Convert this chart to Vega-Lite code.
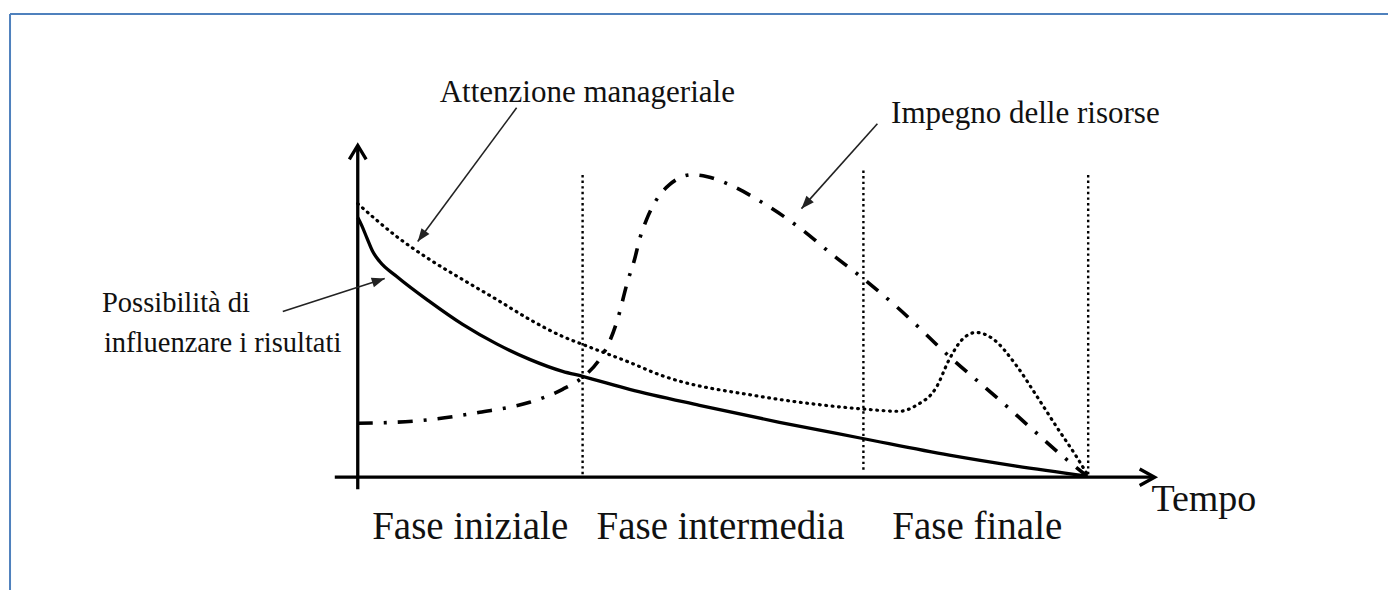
{
  "$schema": "https://vega.github.io/schema/vega-lite/v6.json",
  "width": 1389,
  "height": 591,
  "autosize": {"type": "fit", "contains": "padding"},
  "padding": 0,
  "background": "white",
  "view": {"stroke": null},
  "datasets": {
    "curves": [
      {"curva": "Possibilità", "t": 0, "v": 86.67},
      {"curva": "Possibilità", "t": 0.55, "v": 84},
      {"curva": "Possibilità", "t": 1.23, "v": 80},
      {"curva": "Possibilità", "t": 2.05, "v": 75.33},
      {"curva": "Possibilità", "t": 3.0, "v": 72},
      {"curva": "Possibilità", "t": 5.33, "v": 67},
      {"curva": "Possibilità", "t": 9.84, "v": 58.6},
      {"curva": "Possibilità", "t": 14.34, "v": 51.0},
      {"curva": "Possibilità", "t": 18.99, "v": 44.5},
      {"curva": "Possibilità", "t": 23.5, "v": 39.33},
      {"curva": "Possibilità", "t": 28.0, "v": 35.33},
      {"curva": "Possibilità", "t": 30.74, "v": 33.67},
      {"curva": "Possibilità", "t": 37.16, "v": 29.33},
      {"curva": "Possibilità", "t": 46.72, "v": 24},
      {"curva": "Possibilità", "t": 57.65, "v": 18.33},
      {"curva": "Possibilità", "t": 68.85, "v": 13},
      {"curva": "Possibilità", "t": 80.87, "v": 7.33},
      {"curva": "Possibilità", "t": 90.03, "v": 3.67},
      {"curva": "Possibilità", "t": 99.73, "v": 0.33},
      {"curva": "Attenzione", "t": 0, "v": 91.33},
      {"curva": "Attenzione", "t": 5.33, "v": 80.33},
      {"curva": "Attenzione", "t": 9.84, "v": 72.67},
      {"curva": "Attenzione", "t": 14.34, "v": 66},
      {"curva": "Attenzione", "t": 18.99, "v": 59.33},
      {"curva": "Attenzione", "t": 23.5, "v": 52.67},
      {"curva": "Attenzione", "t": 28.0, "v": 47},
      {"curva": "Attenzione", "t": 30.74, "v": 44.33},
      {"curva": "Attenzione", "t": 37.16, "v": 38.33},
      {"curva": "Attenzione", "t": 41.26, "v": 34.2},
      {"curva": "Attenzione", "t": 54.92, "v": 27},
      {"curva": "Attenzione", "t": 63.11, "v": 24.2},
      {"curva": "Attenzione", "t": 68.85, "v": 22.8},
      {"curva": "Attenzione", "t": 74.04, "v": 22},
      {"curva": "Attenzione", "t": 76.37, "v": 24},
      {"curva": "Attenzione", "t": 79.1, "v": 30},
      {"curva": "Attenzione", "t": 80.87, "v": 39.33},
      {"curva": "Attenzione", "t": 82.65, "v": 46},
      {"curva": "Attenzione", "t": 84.56, "v": 48.33},
      {"curva": "Attenzione", "t": 86.75, "v": 46.33},
      {"curva": "Attenzione", "t": 90.03, "v": 37.33},
      {"curva": "Attenzione", "t": 92.76, "v": 27.33},
      {"curva": "Attenzione", "t": 95.49, "v": 17},
      {"curva": "Attenzione", "t": 98.22, "v": 7},
      {"curva": "Attenzione", "t": 99.73, "v": 1},
      {"curva": "Impegno", "t": 0, "v": 18},
      {"curva": "Impegno", "t": 7.51, "v": 18.67},
      {"curva": "Impegno", "t": 16.67, "v": 21.67},
      {"curva": "Impegno", "t": 23.5, "v": 25},
      {"curva": "Impegno", "t": 28.0, "v": 29.33},
      {"curva": "Impegno", "t": 30.74, "v": 33.33},
      {"curva": "Impegno", "t": 33.06, "v": 39.33},
      {"curva": "Impegno", "t": 34.43, "v": 45.33},
      {"curva": "Impegno", "t": 35.52, "v": 52.67},
      {"curva": "Impegno", "t": 36.89, "v": 65.33},
      {"curva": "Impegno", "t": 37.84, "v": 72.67},
      {"curva": "Impegno", "t": 38.52, "v": 79.33},
      {"curva": "Impegno", "t": 39.48, "v": 86},
      {"curva": "Impegno", "t": 40.85, "v": 92.67},
      {"curva": "Impegno", "t": 42.62, "v": 97.67},
      {"curva": "Impegno", "t": 45.77, "v": 101},
      {"curva": "Impegno", "t": 47.81, "v": 100.33},
      {"curva": "Impegno", "t": 50.82, "v": 97.67},
      {"curva": "Impegno", "t": 55.33, "v": 91.67},
      {"curva": "Impegno", "t": 60.38, "v": 83.33},
      {"curva": "Impegno", "t": 64.89, "v": 74.33},
      {"curva": "Impegno", "t": 69.26, "v": 66},
      {"curva": "Impegno", "t": 73.63, "v": 57},
      {"curva": "Impegno", "t": 80.87, "v": 40.33},
      {"curva": "Impegno", "t": 88.11, "v": 25},
      {"curva": "Impegno", "t": 92.21, "v": 16},
      {"curva": "Impegno", "t": 96.86, "v": 6},
      {"curva": "Impegno", "t": 99.73, "v": 0.33}
    ],
    "phases": [
      {"t": 30.74, "v": 1, "v2": 101.7},
      {"t": 69.13, "v": 2.5, "v2": 102.7},
      {"t": 99.86, "v": 1, "v2": 102}
    ],
    "axes": [
      {"asse": "y", "t": 0, "v": -4, "t2": 0, "v2": 110.67},
      {"asse": "x", "t": -3.14, "v": 0, "t2": 108.74, "v2": 0}
    ],
    "tips": [
      {"asse": "y", "t": 0, "v": 110.8},
      {"asse": "x", "t": 108.95, "v": 0}
    ],
    "frame": [
      {"t": -47.54, "v": -37.67, "t2": -47.54, "v2": 154.67},
      {"t": -47.54, "v": 154.67, "t2": 140.85, "v2": 154.67}
    ],
    "callouts": [
      {"freccia": "Attenzione", "t": 21.72, "v": 123.33, "t2": 8.2, "v2": 78.67},
      {"freccia": "Impegno", "t": 71.04, "v": 118, "t2": 60.66, "v2": 89.67},
      {"freccia": "Possibilità", "t": -10.25, "v": 55.33, "t2": 3.69, "v2": 66.33}
    ],
    "labels": [
      {"gruppo": "nota", "testo": "Attenzione manageriale", "t": 11.2, "v": 125.43},
      {"gruppo": "nota", "testo": "Impegno delle risorse", "t": 72.91, "v": 118.23},
      {"gruppo": "nota2", "testo": "Possibilità di", "t": -34.97, "v": 55},
      {"gruppo": "nota2", "testo": "influenzare i risultati", "t": -34.7, "v": 41.67},
      {"gruppo": "fase", "testo": "Fase iniziale", "t": 15.37, "v": -20.67},
      {"gruppo": "fase", "testo": "Fase intermedia", "t": 49.59, "v": -20.67},
      {"gruppo": "fase", "testo": "Fase finale", "t": 84.7, "v": -20.67},
      {"gruppo": "asse", "testo": "Tempo", "t": 108.5, "v": -11.33}
    ]
  },
  "encoding": {
    "x": {"field": "t", "type": "quantitative", "axis": null, "scale": {"domain": [-48.91, 140.85], "nice": false, "zero": false}},
    "y": {"field": "v", "type": "quantitative", "axis": null, "scale": {"domain": [-37.67, 159.33], "nice": false, "zero": false}}
  },
  "layer": [
    {
      "data": {"name": "frame"},
      "mark": {"type": "rule", "color": "#4f81bd", "strokeWidth": 2},
      "encoding": {"x2": {"field": "t2"}, "y2": {"field": "v2"}}
    },
    {
      "data": {"name": "phases"},
      "mark": {"type": "rule", "color": "black", "strokeWidth": 2.4, "strokeDash": [2.4, 3.2]},
      "encoding": {"y2": {"field": "v2"}}
    },
    {
      "data": {"name": "axes"},
      "mark": {"type": "rule", "color": "black", "strokeWidth": 3.3},
      "encoding": {"x2": {"field": "t2"}, "y2": {"field": "v2"}}
    },
    {
      "data": {"name": "tips"},
      "transform": [{"filter": "datum.asse === 'y'"}],
      "mark": {"type": "point", "shape": "M-0.6,1L0,0L0.6,1", "filled": false, "color": "black", "strokeWidth": 3.3, "strokeJoin": "miter", "size": 784, "angle": 0, "opacity": 1}
    },
    {
      "data": {"name": "tips"},
      "transform": [{"filter": "datum.asse === 'x'"}],
      "mark": {"type": "point", "shape": "M-0.55,1L0,0L0.55,1", "filled": false, "color": "black", "strokeWidth": 3.3, "strokeJoin": "miter", "size": 900, "angle": 90, "opacity": 1}
    },
    {
      "data": {"name": "curves"},
      "transform": [{"filter": "datum.curva === 'Possibilità'"}],
      "mark": {"type": "line", "color": "black", "strokeWidth": 3.3, "interpolate": "monotone"}
    },
    {
      "data": {"name": "curves"},
      "transform": [{"filter": "datum.curva === 'Attenzione'"}],
      "mark": {"type": "line", "color": "black", "strokeWidth": 3.2, "strokeDash": [0.8, 5.6], "strokeCap": "round", "interpolate": "monotone"}
    },
    {
      "data": {"name": "curves"},
      "transform": [{"filter": "datum.curva === 'Impegno'"}],
      "mark": {"type": "line", "color": "black", "strokeWidth": 3.6, "strokeDash": [15, 11, 3, 11], "interpolate": "monotone"}
    },
    {
      "data": {"name": "callouts"},
      "mark": {"type": "rule", "color": "#222222", "strokeWidth": 1.6},
      "encoding": {"x2": {"field": "t2"}, "y2": {"field": "v2"}}
    },
    {
      "data": {"name": "callouts"},
      "transform": [{"filter": "datum.freccia === 'Attenzione'"}],
      "mark": {"type": "point", "shape": "M0,0L-0.38,1L0.38,1Z", "filled": true, "color": "#222222", "size": 676, "angle": 216.5, "opacity": 1},
      "encoding": {"x": {"field": "t2", "type": "quantitative"}, "y": {"field": "v2", "type": "quantitative"}}
    },
    {
      "data": {"name": "callouts"},
      "transform": [{"filter": "datum.freccia === 'Impegno'"}],
      "mark": {"type": "point", "shape": "M0,0L-0.38,1L0.38,1Z", "filled": true, "color": "#222222", "size": 676, "angle": 221.8, "opacity": 1},
      "encoding": {"x": {"field": "t2", "type": "quantitative"}, "y": {"field": "v2", "type": "quantitative"}}
    },
    {
      "data": {"name": "callouts"},
      "transform": [{"filter": "datum.freccia === 'Possibilità'"}],
      "mark": {"type": "point", "shape": "M0,0L-0.38,1L0.38,1Z", "filled": true, "color": "#222222", "size": 676, "angle": 72.1, "opacity": 1},
      "encoding": {"x": {"field": "t2", "type": "quantitative"}, "y": {"field": "v2", "type": "quantitative"}}
    },
    {
      "data": {"name": "labels"},
      "transform": [{"filter": "datum.gruppo === 'nota'"}],
      "mark": {"type": "text", "font": "Liberation Serif", "fontSize": 31, "align": "left", "baseline": "alphabetic", "color": "#111111"},
      "encoding": {"text": {"field": "testo"}}
    },
    {
      "data": {"name": "labels"},
      "transform": [{"filter": "datum.gruppo === 'nota2'"}],
      "mark": {"type": "text", "font": "Liberation Serif", "fontSize": 28.5, "align": "left", "baseline": "alphabetic", "color": "#111111"},
      "encoding": {"text": {"field": "testo"}}
    },
    {
      "data": {"name": "labels"},
      "transform": [{"filter": "datum.gruppo === 'fase'"}],
      "mark": {"type": "text", "font": "Liberation Serif", "fontSize": 39, "align": "center", "baseline": "alphabetic", "color": "#111111"},
      "encoding": {"text": {"field": "testo"}}
    },
    {
      "data": {"name": "labels"},
      "transform": [{"filter": "datum.gruppo === 'asse'"}],
      "mark": {"type": "text", "font": "Liberation Serif", "fontSize": 38, "align": "left", "baseline": "alphabetic", "color": "#111111"},
      "encoding": {"text": {"field": "testo"}}
    }
  ]
}
